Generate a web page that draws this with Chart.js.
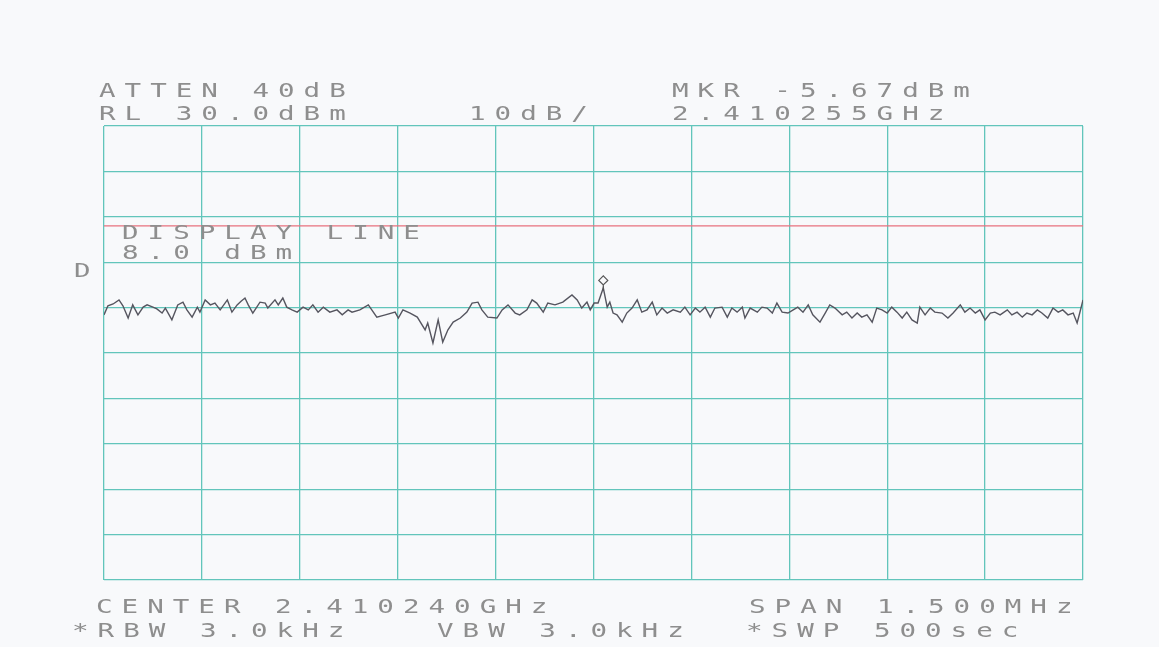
<!DOCTYPE html>
<html>
<head>
<meta charset="utf-8">
<script src="https://cdn.jsdelivr.net/npm/chart.js@4/dist/chart.umd.min.js"></script>
<style>
  html, body { margin: 0; padding: 0; background: #f8f9fb; }
  #wrap { position: relative; width: 1159px; height: 647px; overflow: hidden; }
  #plot { position: absolute; left: 0; top: 0; }
  .lbl {
    position: absolute;
    font-family: "DejaVu Sans Mono", monospace;
    font-size: 19px;
    letter-spacing: 6.2px;
    color: #8e8e8e;
    white-space: pre;
    line-height: 1;
    transform: scaleX(1.45);
    transform-origin: 0 0;
  }
</style>
</head>
<body>
<div id="wrap">
  <canvas id="plot" width="1159" height="647"></canvas>
</div>
<script>
// analyzer settings
const refLevel = 30;        // dBm, top line
const dbPerDiv = 10;
const divisions = 10;
const spanKHz = 1500;       // 1.500 MHz span, x is kHz from left edge
const displayLine = 8.0;    // dBm
const markerKHz = 765;      // 2.410255 GHz
const markerDBm = -5.67;

// trace: offset from left edge (kHz) and level (dBm)
const traceKHz = [
  0, 6, 14, 23, 29, 37, 44, 52, 60, 66, 75, 81, 89, 94, 104, 113, 121, 127, 135, 143,
  147, 155, 163, 170, 178, 189, 196, 204, 210, 216, 221, 228, 239, 247, 251, 262, 267, 274, 280, 288,
  296, 305, 313, 320, 328, 336, 346, 357, 365, 374,
  380, 392, 405, 418, 431, 446, 451, 458, 469, 480, 492, 496, 504, 512, 519, 527, 535, 546, 556, 564,
  573, 579, 588, 602, 610, 619, 630, 637, 648, 656, 663, 673, 680, 691, 703, 717, 725, 732, 740, 745,
  751, 757, 765,
  771, 775, 780, 786, 794, 801, 809, 817, 824, 832, 840, 847, 855, 863, 872, 883, 890, 898, 906, 913,
  921, 929, 936, 947, 955, 962, 970, 978, 982, 990, 1001, 1008, 1016, 1024, 1031, 1039, 1048, 1056, 1063, 1071,
  1079, 1086, 1097, 1105, 1112, 1120,
  1131, 1138, 1146, 1154, 1161, 1169, 1177, 1184, 1192, 1200, 1207, 1215, 1223, 1230, 1238, 1246, 1250, 1258, 1266, 1273,
  1284, 1293, 1301, 1312, 1319, 1327, 1335, 1342, 1350, 1358, 1365, 1373, 1384, 1391, 1399, 1407, 1414, 1422, 1430, 1437,
  1446, 1454, 1462, 1469, 1477, 1485, 1491, 1495, 1500
];
const traceDBm = [
  -11.6, -9.6, -9.2, -8.3, -9.6, -12.3, -9.4, -11.6, -9.9, -9.4, -9.9, -10.3, -11.2, -10.1, -12.7, -9.4, -8.8, -10.5, -12.1, -9.9,
  -11.0, -8.3, -9.4, -9.0, -10.5, -8.3, -11.0, -9.4, -8.6, -7.9, -9.4, -11.2, -8.8, -9.0, -10.1, -8.3, -9.4, -7.9, -9.9, -10.5,
  -11.0, -9.9, -10.5, -9.4, -11.0, -9.9, -11.0, -10.5, -11.6, -10.5,
  -11.0, -10.5, -9.4, -12.1, -11.6, -11.0, -12.3, -10.5, -11.2, -12.1, -14.9, -13.4, -17.8, -12.7, -17.6, -14.9, -13.2, -12.3, -11.0, -9.0,
  -8.8, -10.5, -12.1, -12.3, -10.5, -9.4, -11.2, -11.6, -10.5, -8.3, -9.0, -11.0, -9.0, -9.4, -8.8, -7.2, -8.3, -10.1, -8.8, -10.5,
  -9.0, -9.0, -5.67,
  -9.9, -8.8, -11.2, -11.6, -13.2, -11.2, -10.1, -8.3, -11.0, -10.5, -8.8, -11.6, -10.1, -11.2, -10.5, -11.0, -9.9, -11.6, -10.1, -11.0,
  -9.9, -12.1, -10.1, -9.9, -12.1, -10.1, -11.0, -9.9, -12.3, -10.1, -11.0, -9.9, -10.1, -11.2, -9.0, -11.0, -11.2, -10.5, -9.9, -11.0,
  -9.4, -11.6, -13.2, -11.2, -9.4, -10.1,
  -11.6, -11.0, -12.3, -11.2, -12.1, -11.6, -13.2, -10.1, -10.5, -11.2, -9.9, -11.0, -12.3, -11.0, -12.7, -13.4, -9.9, -11.6, -10.1, -11.0,
  -11.2, -12.3, -11.2, -9.4, -11.0, -10.1, -11.2, -10.5, -12.7, -11.2, -11.0, -11.6, -10.5, -11.6, -11.0, -12.1, -11.2, -11.6, -10.5, -11.2,
  -12.3, -10.1, -11.0, -10.5, -11.6, -11.2, -13.4, -11.2, -8.3
];

// annotation text and where it sits on the page
const labels = [
  { text: 'ATTEN 40dB', x: 99, y: 81 },
  { text: 'RL 30.0dBm', x: 99, y: 104 },
  { text: '10dB/', x: 469, y: 104 },
  { text: 'MKR -5.67dBm', x: 672, y: 81 },
  { text: '2.410255GHz', x: 672, y: 104 },
  { text: 'DISPLAY LINE', x: 122, y: 223 },
  { text: '8.0 dBm', x: 122, y: 243 },
  { text: 'D', x: 74, y: 261 },
  { text: 'CENTER 2.410240GHz', x: 96, y: 597 },
  { text: 'SPAN 1.500MHz', x: 749, y: 597 },
  { text: '*RBW 3.0kHz', x: 72, y: 621 },
  { text: 'VBW 3.0kHz', x: 437, y: 621 },
  { text: '*SWP 500sec', x: 746, y: 621 }
];

const wrap = document.getElementById('wrap');
labels.forEach((l) => {
  const d = document.createElement('div');
  d.className = 'lbl';
  d.textContent = l.text;
  d.style.left = l.x + 'px';
  d.style.top = l.y + 'px';
  wrap.appendChild(d);
});

const gridColor = '#62c5bb';

const markerPlugin = {
  id: 'marker',
  afterDatasetsDraw(chart) {
    const { ctx, scales } = chart;
    const px = scales.x.getPixelForValue(markerKHz);
    const py = scales.y.getPixelForValue(markerDBm);
    ctx.save();
    ctx.strokeStyle = '#555';
    ctx.lineWidth = 1.2;
    ctx.beginPath();
    ctx.moveTo(px, py - 3);
    ctx.lineTo(px + 4.5, py - 7.5);
    ctx.lineTo(px, py - 12);
    ctx.lineTo(px - 4.5, py - 7.5);
    ctx.closePath();
    ctx.moveTo(px, py - 3);
    ctx.lineTo(px, py + 2);
    ctx.stroke();
    ctx.restore();
  }
};

new Chart(document.getElementById('plot'), {
  type: 'scatter',
  data: {
    datasets: [
      {
        label: 'Display line',
        data: [{ x: 0, y: displayLine }, { x: spanKHz, y: displayLine }],
        showLine: true,
        borderColor: '#e8707e',
        borderWidth: 1.2,
        pointRadius: 0,
      },
      {
        label: 'Trace',
        data: traceKHz.map((k, i) => ({ x: k, y: traceDBm[i] })),
        showLine: true,
        borderColor: '#55555f',
        borderWidth: 1.4,
        pointRadius: 0,
        tension: 0,
      },
    ],
  },
  options: {
    responsive: false,
    animation: false,
    layout: { padding: { left: 104, top: 126, right: 76, bottom: 67 } },
    plugins: { legend: { display: false }, tooltip: { enabled: false } },
    scales: {
      x: {
        type: 'linear',
        min: 0,
        max: spanKHz,
        ticks: { display: false, stepSize: spanKHz / divisions },
        grid: { color: gridColor, lineWidth: 1.3, drawTicks: false },
        border: { display: false },
      },
      y: {
        type: 'linear',
        min: refLevel - dbPerDiv * divisions,
        max: refLevel,
        ticks: { display: false, stepSize: dbPerDiv },
        grid: { color: gridColor, lineWidth: 1.3, drawTicks: false },
        border: { display: false },
      },
    },
  },
  plugins: [markerPlugin],
});
</script>
</body>
</html>
